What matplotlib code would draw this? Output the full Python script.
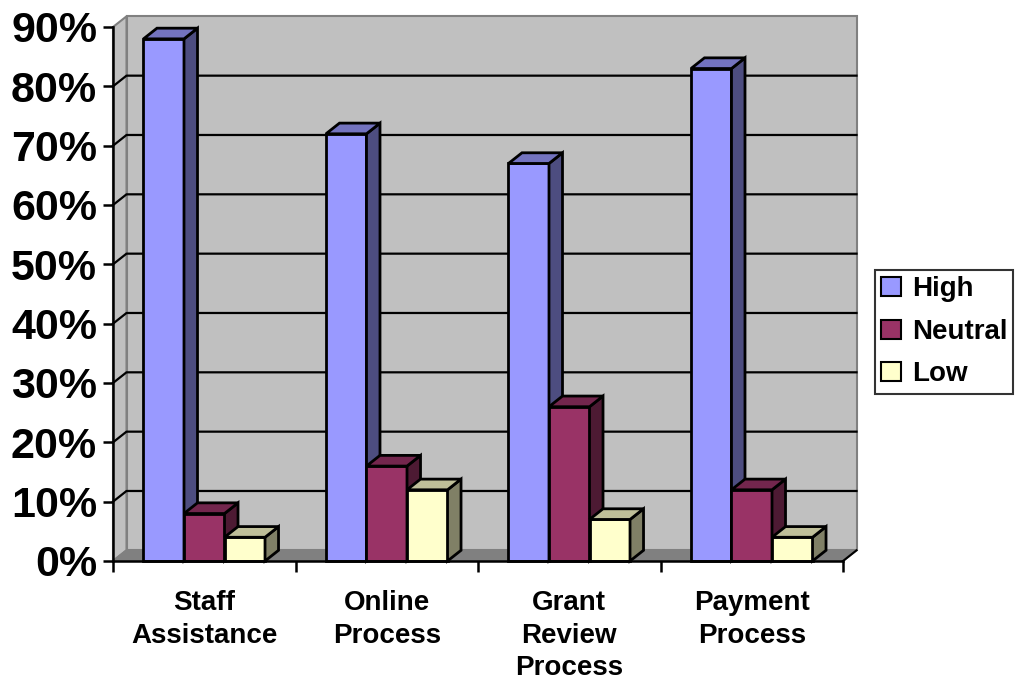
import matplotlib
matplotlib.use("Agg")
import matplotlib.pyplot as plt
from matplotlib.patches import Polygon, Patch
import numpy as np

plt.rcParams["font.family"] = ["Liberation Sans", "DejaVu Sans"]
plt.rcParams["font.weight"] = "bold"

categories = ["Staff\nAssistance", "Online\nProcess", "Grant\nReview\nProcess", "Payment\nProcess"]
series = ["High", "Neutral", "Low"]
high = [88, 72, 67, 83]
neutral = [8, 16, 26, 12]
low = [4, 12, 7, 4]
y_ticks = list(range(0, 100, 10))

# front / side / top shades per series
FACE = {"High": ("#9999FF", "#4D4D80", "#7373BF"),
        "Neutral": ("#993366", "#4D1A33", "#73264D"),
        "Low": ("#FFFFCC", "#808066", "#BFBF99")}
WALL = "#C0C0C0"
FLOOR = "#808080"
EDGE = "#808080"

DX, DY = 0.074, 1.8      # depth offset of the 3d box (x units, percent)
BAR_W = 0.222
YMAX = 90
n_cat = len(categories)

fig = plt.figure(figsize=(10.16, 6.86), dpi=100)
ax = fig.add_axes([113 / 1016, 1 - 561 / 686, 730 / 1016, 534 / 686])
ax.set_xlim(0, n_cat)
ax.set_ylim(0, YMAX)

# walls and floor
back = Polygon([(DX, DY), (n_cat + DX, DY), (n_cat + DX, YMAX + DY), (DX, YMAX + DY)],
               closed=True, facecolor=WALL, edgecolor=EDGE, lw=1.5, zorder=1, clip_on=False)
side = Polygon([(0, 0), (DX, DY), (DX, YMAX + DY), (0, YMAX)],
               closed=True, facecolor=WALL, edgecolor=EDGE, lw=1.5, zorder=1, clip_on=False)
floor = Polygon([(0, 0), (n_cat, 0), (n_cat + DX, DY), (DX, DY)],
                closed=True, facecolor=FLOOR, edgecolor=EDGE, lw=1.5, zorder=1, clip_on=False)
for p in (back, side, floor):
    ax.add_patch(p)
ax.plot([n_cat, n_cat + DX], [0, DY], color="black", lw=1.5, zorder=1.5, clip_on=False)

# gridlines run across the side wall and the back wall
for v in y_ticks[1:-1]:
    ax.plot([0, DX, n_cat + DX], [v, v + DY, v + DY], color="black", lw=1.6,
            zorder=1.5, clip_on=False)

# bars, drawn left to right so each one covers its neighbour's side face
values = {"High": high, "Neutral": neutral, "Low": low}
z = 2
for i in range(n_cat):
    for k, name in enumerate(series):
        v = values[name][i]
        front, dark, top = FACE[name]
        x0 = i + 0.5 + (k - 1.5) * BAR_W
        x1 = x0 + BAR_W
        ax.bar(x0, v, width=BAR_W, align="edge", color=front, edgecolor="black",
               lw=2.0, zorder=z, clip_on=False)
        ax.add_patch(Polygon([(x1, 0), (x1 + DX, DY), (x1 + DX, v + DY), (x1, v)],
                             closed=True, facecolor=dark, edgecolor="black", lw=2.0,
                             zorder=z, clip_on=False, joinstyle="miter"))
        ax.add_patch(Polygon([(x0, v), (x0 + DX, v + DY), (x1 + DX, v + DY), (x1, v)],
                             closed=True, facecolor=top, edgecolor="black", lw=2.0,
                             zorder=z, clip_on=False, joinstyle="miter"))
        z += 0.1

# axes
for s in ("top", "right"):
    ax.spines[s].set_visible(False)
ax.spines["left"].set_linewidth(1.8)
ax.spines["bottom"].set_linewidth(1.8)
ax.spines["left"].set_zorder(10)
ax.spines["bottom"].set_zorder(10)

ax.set_yticks(y_ticks)
ax.set_yticklabels([f"{v}%" for v in y_ticks])
ax.tick_params(axis="y", length=7.5, width=1.8, pad=4, labelsize=31)

ax.set_xticks(np.arange(n_cat) + 0.5)
ax.set_xticklabels(categories, fontsize=20, linespacing=1.32)
ax.set_xticks(np.arange(n_cat + 1), minor=True)
ax.tick_params(axis="x", which="major", length=0, pad=21)
ax.tick_params(axis="x", which="minor", length=8, width=1.8)
for lab in ax.get_xticklabels() + ax.get_yticklabels():
    lab.set_fontweight("bold")

handles = [Patch(facecolor=FACE[s][0], edgecolor="black", lw=1.5) for s in series]
leg = fig.legend(handles, series, loc="upper left",
                 bbox_to_anchor=(875 / 1016, 1 - 270 / 686),
                 prop={"size": 20, "weight": "bold"}, frameon=True, fancybox=False,
                 handlelength=0.7, handleheight=0.68, handletextpad=0.4,
                 labelspacing=0.6, borderpad=0.22, borderaxespad=0)
leg.get_frame().set_edgecolor("black")
leg.get_frame().set_linewidth(1.5)

fig.savefig("out.png", dpi=100, facecolor="white")
